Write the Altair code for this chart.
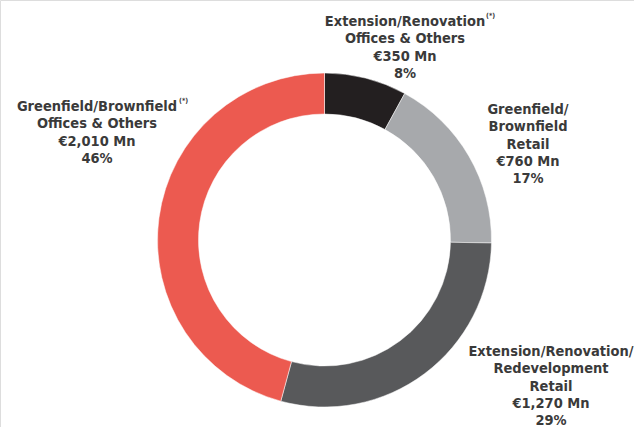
import altair as alt
import pandas as pd

categories = [
    "Extension/Renovation Offices & Others",
    "Greenfield/Brownfield Retail",
    "Extension/Renovation/Redevelopment Retail",
    "Greenfield/Brownfield Offices & Others",
]
values_mn = [350, 760, 1270, 2010]
shares = ["8%", "17%", "29%", "46%"]
colors = ["#231f20", "#a7a9ac", "#58595b", "#ec5a50"]
label_texts = [
    "Extension/Renovation\nOffices & Others\n€350 Mn\n8%",
    "Greenfield/\nBrownfield\nRetail\n€760 Mn\n17%",
    "Extension/Renovation/\nRedevelopment\nRetail\n€1,270 Mn\n29%",
    "Greenfield/Brownfield\nOffices & Others\n€2,010 Mn\n46%",
]
label_x = [405, 528, 551, 97]
label_y = [22, 110, 352, 107]

df = pd.DataFrame({
    "category": categories,
    "value": values_mn,
    "order": list(range(len(categories))),
})
lab = pd.DataFrame({"text": label_texts, "lx": label_x, "ly": label_y})
sup = pd.DataFrame({"text": ["(*)", "(*)"], "sx": [179, 486], "sy": [101, 16]})

donut = alt.Chart(df).mark_arc(innerRadius=126, outerRadius=167, stroke="white", strokeWidth=0.5).encode(
    theta=alt.Theta("value:Q", stack=True),
    order=alt.Order("order:Q"),
    color=alt.Color("category:N", scale=alt.Scale(domain=categories, range=colors), legend=None),
    x=alt.value(324.5),
    y=alt.value(240),
)

labels = alt.Chart(lab).mark_text(
    font="DejaVu Sans Condensed", fontWeight="bold", fontSize=14.5, lineBreak="\n",
    lineHeight=17.3, align="center", baseline="middle", color="#3a3a3a",
).encode(
    x=alt.X("lx:Q", scale=None),
    y=alt.Y("ly:Q", scale=None),
    text="text:N",
)

sups = alt.Chart(sup).mark_text(
    font="DejaVu Sans Condensed", fontWeight="bold", fontSize=7, align="left",
    baseline="middle", color="#3a3a3a",
).encode(
    x=alt.X("sx:Q", scale=None),
    y=alt.Y("sy:Q", scale=None),
    text="text:N",
)

chart = alt.layer(donut, labels, sups).properties(
    width=634, height=427, padding=0, autosize=alt.AutoSizeParams(type="none"),
).configure_view(stroke=None).configure(background="white")

chart.save("out.html", embed_options={"renderer": "svg", "actions": False})
